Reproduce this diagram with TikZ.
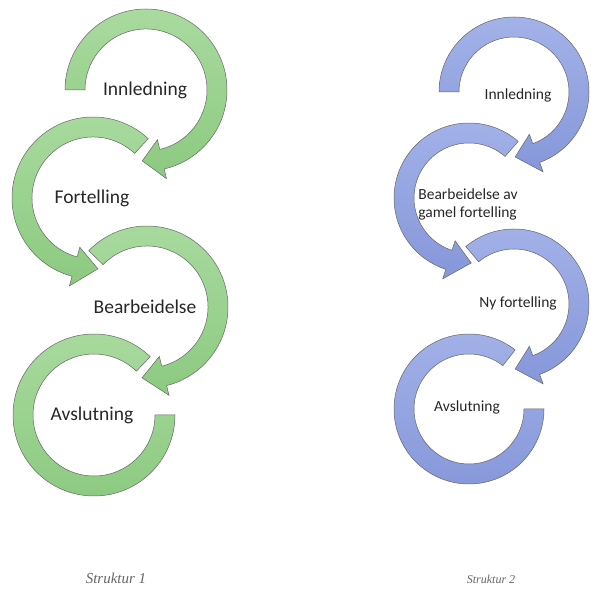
\documentclass[tikz,border=0pt]{standalone}
\usepackage{fontspec}
\setmainfont{Carlito}
\newfontfamily\capfont{Liberation Serif}
\begin{document}
\begin{tikzpicture}[x=1pt,y=1pt,
  greenarrow/.style={draw=black!60, line width=0.5pt, top color=green1, bottom color=green2},
  bluearrow/.style={draw=black!60, line width=0.5pt, top color=blue1, bottom color=blue2},
  biglabel/.style={text=black!85, font=\fontsize{19.5}{23}\selectfont, align=center},
  smalllabel/.style={text=black!85, font=\fontsize{15.5}{18}\selectfont, align=left},
  caption/.style={text=black!60, font=\capfont\itshape}]
\definecolor{green1}{HTML}{A9DA9F}
\definecolor{green2}{HTML}{8CCA80}
\definecolor{blue1}{HTML}{A3B2E8}
\definecolor{blue2}{HTML}{8697DA}
% curved arrow: #1 centre, #2 tail angle, #3 head base angle, #4 tip angle, #5 style
\newcommand\curlarrow[5]{%
  \begin{scope}[shift={#1}]
    \path[#5] (#2:\Ro) arc[start angle=#2, end angle=#3, radius=\Ro]
      -- (#3:\Rh) -- (#4:\Rm) -- (#3:\Rl) -- (#3:\Ri)
      arc[start angle=#3, end angle=#2, radius=\Ri] -- cycle;
  \end{scope}}
% plain ring segment: #1 centre, #2 start angle, #3 end angle, #4 style
\newcommand\curlband[4]{%
  \begin{scope}[shift={#1}]
    \path[#4] (#2:\Ro) arc[start angle=#2, end angle=#3, radius=\Ro]
      -- (#3:\Ri) arc[start angle=#3, end angle=#2, radius=\Ri] -- cycle;
  \end{scope}}
\useasboundingbox (0,0) rectangle (591,591);

% ---- Struktur 1 ----
\def\Ro{81pt}\def\Ri{61pt}\def\Rm{71pt}\def\Rh{91pt}\def\Rl{51pt}
\curlband{(94,176)}{46}{360}{greenarrow}
\curlarrow{(147,284)}{136}{-76}{-94}{greenarrow}
\curlarrow{(93,393)}{47}{255}{274}{greenarrow}
\curlarrow{(146,501)}{180}{-77}{-93}{greenarrow}
\node[biglabel] (g1) at (145,501) {Innledning};
\node[biglabel] (g2) at (92,393) {Fortelling};
\node[biglabel] (g3) at (145,284) {Bearbeidelse};
\node[biglabel] (g4) at (92,176) {Avslutning};
\node[caption, font=\capfont\itshape\fontsize{15}{18}\selectfont] (c1) at (116,13) {Struktur 1};

% ---- Struktur 2 ----
\def\Ro{75pt}\def\Ri{55pt}\def\Rm{65pt}\def\Rh{85pt}\def\Rl{45pt}
\curlband{(469,182)}{52}{360}{bluearrow}
\curlarrow{(514,287)}{130}{-70}{-89}{bluearrow}
\curlarrow{(469,393)}{49}{252}{272}{bluearrow}
\curlarrow{(514,499)}{180}{-70}{-89}{bluearrow}
\node[smalllabel] (b1) at (518,496) {Innledning};
\node[smalllabel] (b2) at (468,387) {Bearbeidelse av\\gamel fortelling};
\node[smalllabel] (b3) at (518,288) {Ny fortelling};
\node[smalllabel] (b4) at (467,184) {Avslutning};
\node[caption, font=\capfont\itshape\fontsize{12}{14}\selectfont] (c2) at (491,12) {Struktur 2};
\end{tikzpicture}
\end{document}
